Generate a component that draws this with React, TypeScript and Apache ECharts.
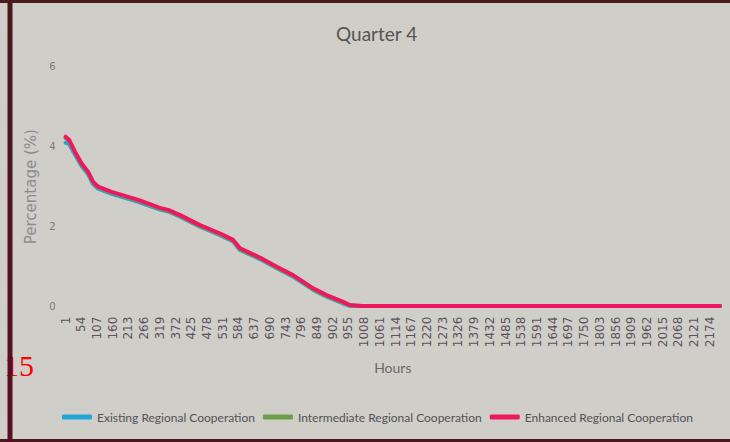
import React, { useEffect, useRef } from "react";
import * as echarts from "echarts";

const tickLabels = [
  1, 54, 107, 160, 213, 266, 319, 372, 425, 478, 531, 584, 637, 690, 743, 796, 849, 902, 955,
  1008, 1061, 1114, 1167, 1220, 1273, 1326, 1379, 1432, 1485, 1538, 1591, 1644, 1697, 1750,
  1803, 1856, 1909, 1962, 2015, 2068, 2121, 2174,
];

const hours = [
  1, 12, 33, 55, 77, 94, 111, 156, 246, 319, 347, 387, 454, 522, 566, 589, 656, 713, 768, 836,
  881, 937, 960, 1000, 2208,
];

const enhanced = [
  4.25, 4.18, 3.87, 3.58, 3.37, 3.12, 3.0, 2.87, 2.67, 2.47, 2.42, 2.29, 2.04, 1.83, 1.67, 1.46,
  1.23, 1.0, 0.79, 0.46, 0.29, 0.12, 0.04, 0.02, 0.02,
];

const intermediate = [
  4.22, 4.15, 3.85, 3.56, 3.35, 3.1, 2.98, 2.85, 2.65, 2.45, 2.4, 2.27, 2.02, 1.81, 1.65, 1.44,
  1.21, 0.98, 0.77, 0.44, 0.27, 0.1, 0.03, 0.02, 0.02,
];

const existing = [
  4.1, 4.08, 3.8, 3.52, 3.31, 3.06, 2.95, 2.82, 2.62, 2.43, 2.38, 2.25, 2.0, 1.79, 1.63, 1.42,
  1.19, 0.96, 0.75, 0.42, 0.25, 0.08, 0.02, 0.02, 0.02,
];

const seriesNames = [
  "Existing Regional Cooperation",
  "Intermediate Regional Cooperation",
  "Enhanced Regional Cooperation",
];
const seriesColors = ["#1ea7d8", "#6a9e48", "#ef1760"];

export default function App() {
  const ref = useRef<HTMLDivElement>(null);
  useEffect(() => {
    if (!ref.current) return;
    const chart = echarts.init(ref.current, null, { renderer: "svg" });
    const allSeries = [existing, intermediate, enhanced];
    chart.setOption({
      animation: false,
      backgroundColor: "#cfcec9",
      title: {
        text: "Quarter 4",
        left: 331,
        top: 19,
        textStyle: { fontFamily: "Lato", fontSize: 19, fontWeight: "normal", color: "#555555" },
      },
      legend: {
        left: 57,
        top: 406,
        itemWidth: 30,
        itemHeight: 5,
        itemGap: 8,
        icon: "roundRect",
        textStyle: { fontFamily: "Lato", fontSize: 12, color: "#525258" },
        data: seriesNames,
      },
      grid: { left: 65.6, right: 10, top: 66.7, bottom: 135.3 },
      xAxis: {
        type: "value",
        min: 1,
        max: 2208,
        name: "Hours",
        nameLocation: "middle",
        nameGap: 54,
        nameTextStyle: { fontFamily: "Lato", fontSize: 14, color: "#6a6a6a" },
        axisLine: { show: false },
        axisTick: { show: false },
        splitLine: { show: false },
        axisLabel: {
          customValues: tickLabels,
          rotate: 90,
          margin: 10,
          fontFamily: "DejaVu Sans",
          fontSize: 12,
          color: "#5c5259",
          formatter: (v: number) => String(v),
        },
      },
      yAxis: {
        type: "value",
        min: 0,
        max: 6,
        interval: 2,
        name: "Percentage (%)",
        nameLocation: "middle",
        nameGap: 18,
        nameTextStyle: { fontFamily: "DejaVu Sans", fontSize: 15, color: "#8c8c8c" },
        axisLine: { show: false },
        axisTick: { show: false },
        splitLine: { show: false },
        axisLabel: { margin: 10, fontFamily: "DejaVu Sans", fontSize: 10, color: "#7a7a7a" },
      },
      series: allSeries.map((vals, i) => ({
        name: seriesNames[i],
        type: "line",
        showSymbol: false,
        symbol: "none",
        color: seriesColors[i],
        lineStyle: { width: 4, color: seriesColors[i], cap: "round", join: "round" },
        data: hours.map((h, j) => [h, vals[j]]),
        z: 2 + i,
      })),
      graphic: [
        {
          type: "text",
          left: 4,
          top: 350,
          z: 10,
          style: { text: "15", fontFamily: "Liberation Serif", fontSize: 30, fill: "#ff0000" },
        },
        {
          type: "rect",
          shape: { x: 0, y: 0, width: 730, height: 3 },
          z: 20,
          style: { fill: "#4a1a1c" },
        },
        {
          type: "rect",
          shape: { x: 0, y: 439, width: 730, height: 3 },
          z: 20,
          style: { fill: "#4a1a1e" },
        },
        {
          type: "rect",
          shape: { x: 7.5, y: 0, width: 5, height: 442 },
          z: 20,
          style: {
            fill: new echarts.graphic.LinearGradient(0, 0, 0, 1, [
              { offset: 0, color: "#45191a" },
              { offset: 1, color: "#5a0c24" },
            ]),
          },
        },
      ],
    });
    return () => chart.dispose();
  }, []);
  return (
    <div
      ref={ref}
      style={{ position: "fixed", left: 0, top: 0, width: 730, height: 442 }}
    />
  );
}
